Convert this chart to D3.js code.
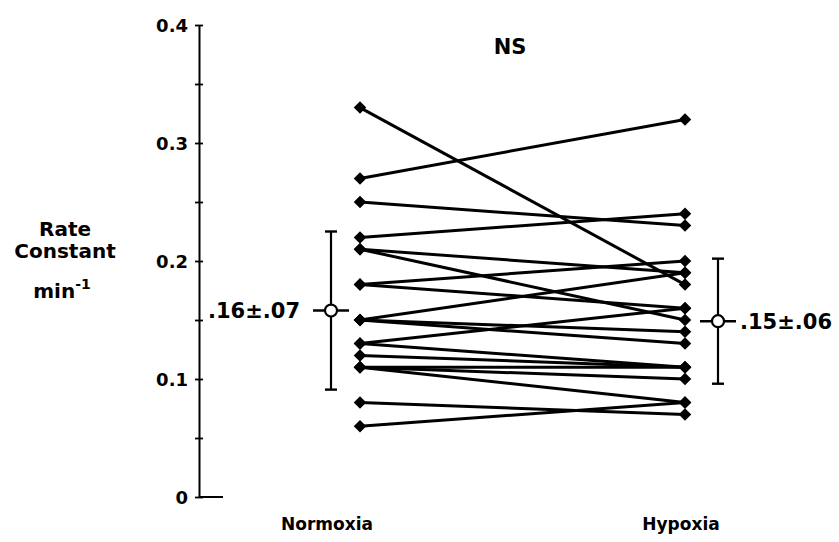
<!DOCTYPE html>
<html>
<head>
<meta charset="utf-8">
<script src="https://cdn.jsdelivr.net/npm/d3@7"></script>
<style>
  html, body { margin: 0; padding: 0; background: #fff; }
  svg text { font-family: "DejaVu Sans", sans-serif; font-weight: bold; fill: #000; }
</style>
</head>
<body>
<svg id="chart" width="839" height="542"></svg>
<script>
// ---- data ----
const conditions = ["Normoxia", "Hypoxia"];
const normoxia = [0.33, 0.27, 0.25, 0.22, 0.21, 0.21, 0.18, 0.18, 0.15, 0.15, 0.15, 0.13, 0.13, 0.12, 0.11, 0.11, 0.11, 0.08, 0.06];
const hypoxia  = [0.18, 0.32, 0.23, 0.24, 0.19, 0.15, 0.20, 0.16, 0.19, 0.14, 0.13, 0.16, 0.11, 0.11, 0.11, 0.10, 0.08, 0.07, 0.08];
const means = [0.158, 0.149];
const sds = [0.067, 0.053];
const meanLabels = [".16\u00b1.07", ".15\u00b1.06"];
const tickValues = [0, 0.05, 0.1, 0.15, 0.2, 0.25, 0.3, 0.35, 0.4];
const tickLabels = ["0", "", "0.1", "", "0.2", "", "0.3", "", "0.4"];
const significance = "NS";

// ---- layout ----
const svg = d3.select("#chart");
const axisX = 199;
const y = d3.scaleLinear().domain([0, 0.4]).range([497, 25]);
const x = d3.scalePoint().domain(conditions).range([360, 685]);

// y axis
const yAxis = d3.axisLeft(y)
  .tickValues(tickValues)
  .tickFormat((d, i) => tickLabels[i])
  .tickSizeInner(4)
  .tickSizeOuter(0)
  .tickPadding(7);
const gy = svg.append("g").attr("transform", `translate(${axisX},0)`).call(yAxis)
  .attr("font-size", null).attr("font-family", null);
gy.select(".domain").attr("stroke", "#000").attr("stroke-width", 2);
gy.selectAll(".tick line").attr("x1", 4).attr("stroke", "#000").attr("stroke-width", 1.8);
gy.selectAll(".tick text").style("font-size", "18px").attr("dy", "0.36em");

// short baseline
svg.append("line")
  .attr("x1", axisX).attr("x2", axisX + 24)
  .attr("y1", y(0)).attr("y2", y(0))
  .attr("stroke", "#000").attr("stroke-width", 2);

// y axis title
const title = svg.append("text").attr("text-anchor", "middle").style("font-size", "20px");
title.append("tspan").attr("x", 65).attr("y", 236).text("Rate");
title.append("tspan").attr("x", 65).attr("y", 258).text("Constant");
const t3 = svg.append("text").attr("text-anchor", "middle").attr("x", 62).attr("y", 298).style("font-size", "20px");
t3.append("tspan").text("min");
t3.append("tspan").attr("dy", -9).style("font-size", "14px").text("-1");

// NS
svg.append("text").attr("x", 510).attr("y", 54).attr("text-anchor", "middle")
  .style("font-size", "21px").text(significance);

// category labels
const catOffsets = [-33, -4];
svg.selectAll(".cat").data(conditions).join("text")
  .attr("class", "cat")
  .attr("x", (d, i) => x(d) + catOffsets[i])
  .attr("y", 530)
  .attr("text-anchor", "middle")
  .style("font-size", "17px")
  .text(d => d);

// paired lines
const pairs = normoxia.map((v, i) => [v, hypoxia[i]]);
svg.append("g").selectAll("line").data(pairs).join("line")
  .attr("x1", x("Normoxia")).attr("x2", x("Hypoxia"))
  .attr("y1", d => y(d[0])).attr("y2", d => y(d[1]))
  .attr("stroke", "#000").attr("stroke-width", 3);

// diamonds
const diamond = d3.symbol().type(d3.symbolDiamond2).size(100);
const pts = [];
pairs.forEach(p => { pts.push([conditions[0], p[0]]); pts.push([conditions[1], p[1]]); });
svg.append("g").selectAll("path").data(pts).join("path")
  .attr("d", diamond)
  .attr("transform", d => `translate(${x(d[0])},${y(d[1])})`)
  .attr("fill", "#000");

// mean +/- SD
const meanOffsets = [-29, 33];
const mg = svg.append("g");
conditions.forEach((c, i) => {
  const cx = x(c) + meanOffsets[i];
  const g = mg.append("g");
  g.append("line").attr("x1", cx).attr("x2", cx)
    .attr("y1", y(means[i] + sds[i])).attr("y2", y(means[i] - sds[i]))
    .attr("stroke", "#000").attr("stroke-width", 2.2);
  [means[i] + sds[i], means[i] - sds[i]].forEach(v => {
    g.append("line").attr("x1", cx - 6).attr("x2", cx + 6)
      .attr("y1", y(v)).attr("y2", y(v))
      .attr("stroke", "#000").attr("stroke-width", 2.4);
  });
  g.append("line").attr("x1", cx - 18).attr("x2", cx + 18)
    .attr("y1", y(means[i])).attr("y2", y(means[i]))
    .attr("stroke", "#000").attr("stroke-width", 2.6);
  g.append("circle").attr("cx", cx).attr("cy", y(means[i])).attr("r", 6)
    .attr("fill", "#fff").attr("stroke", "#000").attr("stroke-width", 2.2);
  g.append("text")
    .attr("x", i === 0 ? cx - 31 : cx + 22)
    .attr("y", y(means[i]))
    .attr("dy", "0.36em")
    .attr("text-anchor", i === 0 ? "end" : "start")
    .style("font-size", "21px")
    .text(meanLabels[i]);
});
</script>
</body>
</html>
